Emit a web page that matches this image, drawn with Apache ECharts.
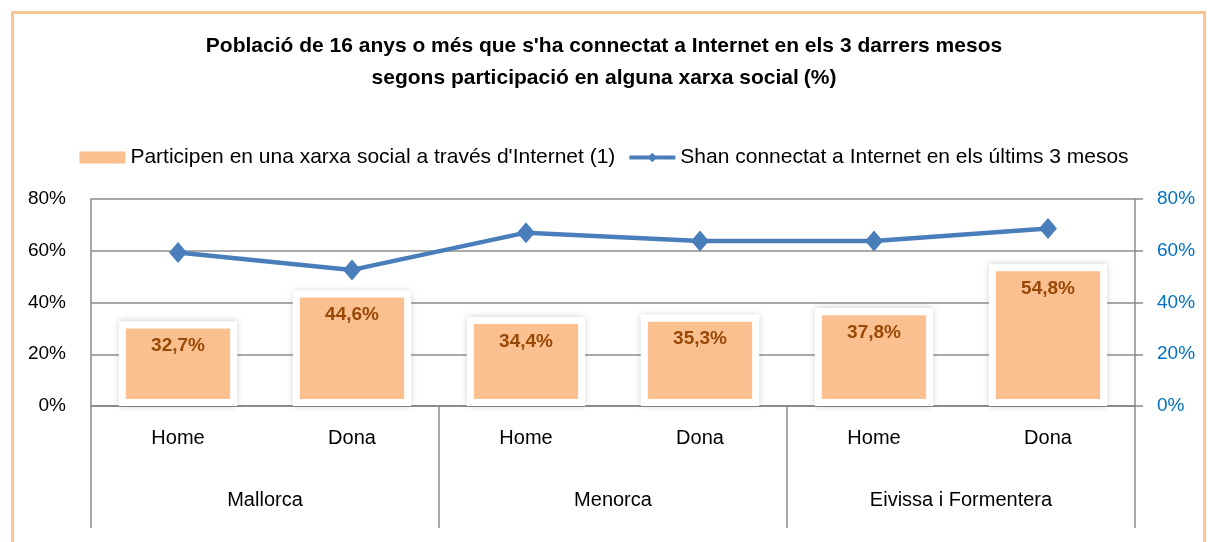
<!DOCTYPE html>
<html>
<head>
<meta charset="utf-8">
<script src="https://cdn.jsdelivr.net/npm/echarts@6/dist/echarts.min.js"></script>
<style>
  html, body { margin: 0; padding: 0; background: #fff; }
  #chart { width: 1208px; height: 542px; }
</style>
</head>
<body>
<div id="chart"></div>
<script>
// dades
const categories = ['Home', 'Dona', 'Home', 'Dona', 'Home', 'Dona'];
const islands = ['Mallorca', 'Menorca', 'Eivissa i Formentera'];
const xarxaSocial = [32.7, 44.6, 34.4, 35.3, 37.8, 54.8];
const connectats = [59.3, 52.6, 67.0, 63.8, 63.8, 68.6];
const yTicks = [0, 20, 40, 60, 80];

const FONT = '"Liberation Sans", Arial, sans-serif';
const BAR_NAME = "Participen en una xarxa social a través d'Internet (1)";
const LINE_NAME = 'Shan connectat a Internet en els últims 3 mesos';
const pct = v => v.toFixed(1).replace('.', ',') + '%';

const chart = echarts.init(document.getElementById('chart'));

chart.setOption({
  backgroundColor: '#fff',
  textStyle: { fontFamily: FONT },
  title: {
    left: 'center',
    top: 25,
    text: '{b|Població de 16 anys o més que s\'ha connectat a Internet en els 3 darrers mesos}\n{b|segons participació en alguna xarxa social} {n|(%)}',
    textStyle: {
      rich: {
        b: { fontFamily: FONT, fontSize: 21, fontWeight: 'bold', color: '#000', lineHeight: 32 },
        n: { fontFamily: FONT, fontSize: 21, color: '#000', lineHeight: 32 }
      }
    }
  },
  legend: {
    top: 142,
    left: 'center',
    itemWidth: 46,
    itemHeight: 12,
    itemGap: 12,
    textStyle: { fontFamily: FONT, fontSize: 21, color: '#000' },
    data: [
      { name: BAR_NAME, icon: 'rect', itemStyle: { color: '#FAC090', borderWidth: 0, shadowBlur: 0 } },
      { name: LINE_NAME, lineStyle: { width: 4 } }
    ]
  },
  graphic: [{
    type: 'rect',
    left: 10, top: 10,
    shape: { width: 1192, height: 560 },
    style: { fill: 'none', stroke: '#F9C493', lineWidth: 3 },
    silent: true
  }],
  grid: { left: 91, right: 73, top: 199, bottom: 136 },
  xAxis: [
    {
      type: 'category',
      data: categories,
      position: 'bottom',
      axisLine: { show: true, lineStyle: { color: '#8c8c8c', width: 2 } },
      axisTick: { show: false },
      axisLabel: { margin: 22, fontFamily: FONT, fontSize: 20, color: '#000' }
    },
    {
      type: 'category',
      data: islands,
      position: 'bottom',
      axisLine: { show: false },
      axisTick: { show: true, length: 122, lineStyle: { color: '#8c8c8c', width: 1.5 } },
      axisLabel: { margin: 84, fontFamily: FONT, fontSize: 20, color: '#000' }
    }
  ],
  yAxis: [
    {
      type: 'value',
      min: 0, max: 80, interval: 20,
      axisLine: { show: true, lineStyle: { color: '#8c8c8c', width: 1.5 } },
      axisTick: { show: false },
      splitLine: { lineStyle: { color: '#8c8c8c', width: 1.5 } },
      axisLabel: { margin: 25, fontFamily: FONT, fontSize: 19, color: '#000',
        formatter: v => yTicks.includes(v) ? v + '%' : '' }
    },
    {
      type: 'value',
      min: 0, max: 80, interval: 20,
      axisLine: { show: true, lineStyle: { color: '#8c8c8c', width: 1.5 } },
      axisTick: { show: true, length: 8, lineStyle: { color: '#8c8c8c', width: 1.5 } },
      splitLine: { show: false },
      axisLabel: { margin: 22, fontFamily: FONT, fontSize: 19, color: '#0070C0',
        formatter: v => yTicks.includes(v) ? v + '%' : '' }
    }
  ],
  series: [
    {
      // marc blanc amb ombra darrere de cada barra
      name: 'marc',
      type: 'bar',
      data: xarxaSocial,
      barWidth: '68%',
      itemStyle: { color: '#fff', shadowBlur: 7, shadowColor: 'rgba(0,0,0,0.22)' },
      silent: true,
      z: 1
    },
    {
      name: BAR_NAME,
      type: 'bar',
      data: xarxaSocial,
      barWidth: '68%',
      barGap: '-100%',
      itemStyle: { color: '#FAC090', borderColor: '#fff', borderWidth: 7 },
      label: {
        show: true,
        position: 'insideTop',
        distance: 15,
        formatter: p => pct(p.value),
        fontFamily: FONT,
        fontSize: 19,
        fontWeight: 'bold',
        color: '#984807'
      },
      z: 2
    },
    {
      name: LINE_NAME,
      type: 'line',
      yAxisIndex: 1,
      data: connectats,
      symbol: 'diamond',
      symbolSize: [18, 21],
      color: '#4A7EBB',
      lineStyle: { width: 4.5, color: '#4A7EBB' },
      itemStyle: { color: '#4A7EBB' },
      z: 3
    }
  ]
});
</script>
</body>
</html>
